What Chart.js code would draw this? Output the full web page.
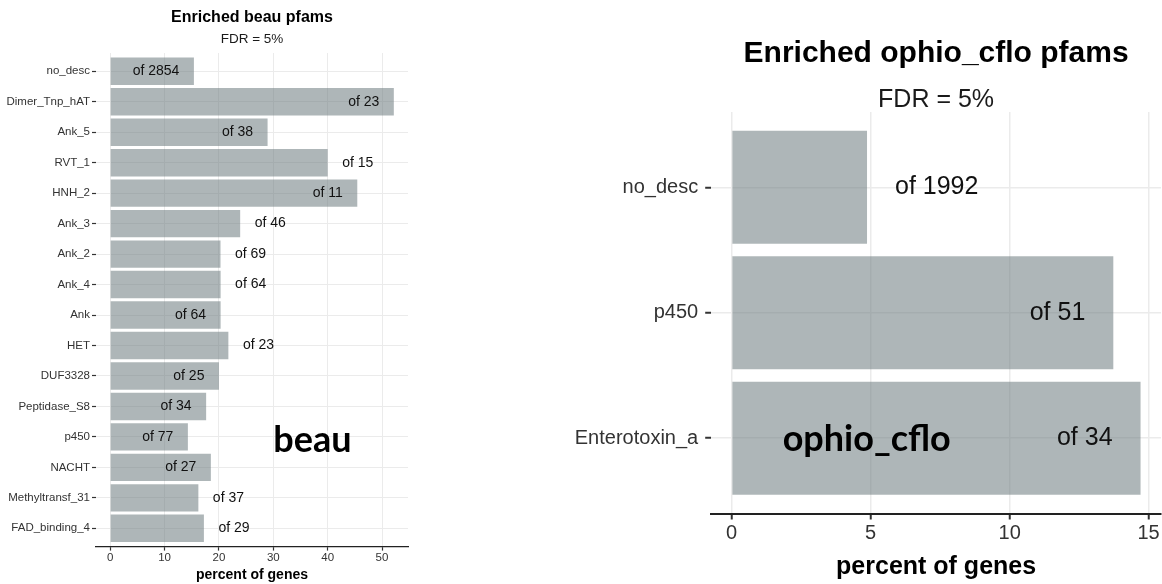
<!DOCTYPE html>
<html lang="en">
<head>
    <title>Enriched pfams</title>
    <meta charset="utf-8">
    <script src="https://cdn.jsdelivr.net/npm/chart.js@4.4.1/dist/chart.umd.min.js"></script>
    <style>
        body { margin: 0; background: #fff; width: 1162px; height: 584px; overflow: hidden; position: relative; }
        .panel { position: absolute; top: 0; }
    </style>
</head>
<body>
<div class="panel" style="left:0px"><canvas id="beau-chart" width="420" height="584"></canvas></div>
<div class="panel" style="left:560px"><canvas id="ophio-chart" width="602" height="584"></canvas></div>
<script>
// beau panel
const beauPfams = ["no_desc", "Dimer_Tnp_hAT", "Ank_5", "RVT_1", "HNH_2", "Ank_3", "Ank_2", "Ank_4",
    "Ank", "HET", "DUF3328", "Peptidase_S8", "p450", "NACHT", "Methyltransf_31", "FAD_binding_4"];
const beauPercent = [15.4, 52.17, 28.95, 40.0, 45.45, 23.91, 20.29, 20.31,
    20.31, 21.74, 20.0, 17.65, 14.29, 18.52, 16.22, 17.24];
const beauOf = [2854, 23, 38, 15, 11, 46, 69, 64, 64, 23, 25, 34, 77, 27, 37, 29];
const beauInside = [true, true, true, false, true, false, false, false,
    true, false, true, true, true, true, false, false];
const beauTicks = [0, 10, 20, 30, 40, 50];

// ophio_cflo panel
const ophioPfams = ["no_desc", "p450", "Enterotoxin_a"];
const ophioPercent = [4.87, 13.73, 14.71];
const ophioOf = [1992, 51, 34];
const ophioInside = [false, true, true];
const ophioTicks = [0, 5, 10, 15];

const FONT = '"Liberation Sans", Arial, sans-serif';

// title + subtitle centred over the panel
const headingPlugin = {
    id: 'heading',
    afterDraw(chart, args, opts) {
        const ctx = chart.ctx, area = chart.chartArea;
        const cx = (area.left + area.right) / 2;
        ctx.save();
        ctx.textAlign = 'center';
        ctx.textBaseline = 'middle';
        ctx.fillStyle = '#000';
        ctx.font = 'bold ' + opts.titleSize + 'px ' + FONT;
        ctx.fillText(opts.title, cx, opts.titleY);
        ctx.fillStyle = '#1a1a1a';
        ctx.font = opts.subSize + 'px ' + FONT;
        ctx.fillText(opts.subtitle, cx, opts.subY);
        ctx.restore();
    }
};

// "of N" labels next to / inside each bar, plus the big sample tag
const countPlugin = {
    id: 'counts',
    afterDatasetsDraw(chart, args, opts) {
        const ctx = chart.ctx;
        const meta = chart.getDatasetMeta(0);
        ctx.save();
        ctx.font = opts.size + 'px ' + FONT;
        ctx.fillStyle = '#111';
        ctx.textBaseline = 'middle';
        meta.data.forEach((bar, i) => {
            const inside = opts.inside[i];
            ctx.textAlign = inside ? 'right' : 'left';
            ctx.fillText('of ' + opts.totals[i], bar.x + (inside ? -opts.gap : opts.gap), bar.y);
        });
        ctx.font = 'bold ' + opts.tagSize + 'px Lato, "Open Sans", sans-serif';
        ctx.fillStyle = '#000';
        ctx.textAlign = 'center';
        ctx.textBaseline = 'alphabetic';
        ctx.fillText(opts.tag.text, chart.scales.x.getPixelForValue(opts.tag.x),
            chart.scales.y.getPixelForValue(opts.tag.y));
        ctx.restore();
    }
};

function drawChart(id, cats, values, totals, inside, xTicks, title, tag, s) {
    const top = Math.max(...values);
    const pad = top * 0.05;
    const points = values.map((v, i) => ({ x: v, y: i }));
    new Chart(id, {
        type: 'bar',
        data: {
            datasets: [{
                data: points,
                backgroundColor: 'rgba(112,126,131,0.57)',
                borderWidth: 0,
                barPercentage: 0.9,
                categoryPercentage: 1
            }]
        },
        plugins: [headingPlugin, countPlugin],
        options: {
            responsive: false,
            animation: false,
            indexAxis: 'y',
            layout: { padding: { top: s.top, right: s.right, left: 0, bottom: 0 } },
            plugins: {
                legend: { display: false },
                tooltip: { enabled: false },
                heading: { title: title, subtitle: 'FDR = 5%', titleSize: s.titleSize, titleY: s.titleY,
                    subSize: s.subSize, subY: s.subY },
                counts: { totals: totals, inside: inside, size: s.countSize, gap: s.gap, tag: tag, tagSize: s.tagSize }
            },
            scales: {
                x: {
                    type: 'linear',
                    min: -pad,
                    max: top + pad,
                    afterBuildTicks: (sc) => { sc.ticks = xTicks.map(v => ({ value: v })); },
                    afterFit: (sc) => { sc.height = s.xHeight; },
                    grid: { color: '#ebebeb', lineWidth: s.grid, tickColor: '#333', tickLength: s.tick, tickWidth: s.axisW },
                    border: { display: true, color: '#222', width: s.axisW },
                    ticks: { font: { family: FONT, size: s.tickSize }, color: '#333', padding: s.xPad, maxRotation: 0 },
                    title: {
                        display: true, text: 'percent of genes', color: '#000',
                        font: { family: FONT, size: s.axisTitle, weight: 'bold' },
                        padding: { top: 0, bottom: s.titlePad }
                    }
                },
                y: {
                    type: 'linear',
                    reverse: true,
                    offset: false,
                    min: -0.6,
                    max: cats.length - 0.4,
                    afterBuildTicks: (sc) => { sc.ticks = cats.map((c, i) => ({ value: i })); },
                    afterFit: (sc) => { sc.width = s.yWidth; },
                    grid: { offset: false, color: '#ebebeb', lineWidth: s.grid, tickColor: '#333', tickLength: s.tick, tickWidth: s.axisW },
                    border: { display: false },
                    ticks: {
                        callback: (v) => cats[v],
                        font: { family: FONT, size: s.tickSize }, color: '#333', padding: s.yPad, autoSkip: false
                    }
                }
            }
        }
    });
}

drawChart('beau-chart', beauPfams, beauPercent, beauOf, beauInside, beauTicks,
    'Enriched beau pfams', { text: 'beau', x: 37.2, y: 12.48 },
    { top: 53, right: 12, xHeight: 37.4, yWidth: 96, grid: 1, axisW: 1.2, tick: 4, tickSize: 11.5,
      xPad: 0, yPad: 2, axisTitle: 14, titlePad: 0, titleSize: 16, titleY: 17.5, subSize: 13.5, subY: 39.5,
      countSize: 14, gap: 14.5, tagSize: 36 });

drawChart('ophio-chart', ophioPfams, ophioPercent, ophioOf, ophioInside, ophioTicks,
    'Enriched ophio_cflo pfams', { text: 'ophio_cflo', x: 4.86, y: 2.1 },
    { top: 112, right: 1, xHeight: 70.5, yWidth: 151.2, grid: 1.5, axisW: 2, tick: 6, tickSize: 20,
      xPad: 2, yPad: 7, axisTitle: 25, titlePad: 2.3, titleSize: 30, titleY: 53.7, subSize: 25, subY: 100.6,
      countSize: 25, gap: 28, tagSize: 36 });
</script>
</body>
</html>
